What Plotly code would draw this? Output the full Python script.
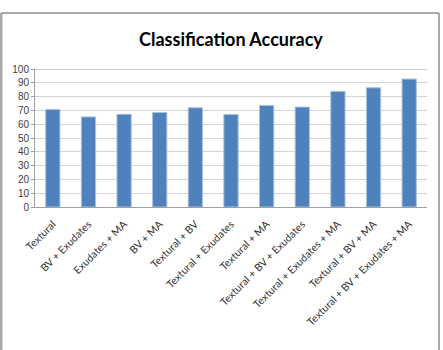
import plotly.graph_objects as go

categories = ["Textural", "BV + Exudates", "Exudates + MA", "BV + MA", "Textural + BV",
              "Textural + Exudates", "Textural + MA", "Textural + BV + Exudates",
              "Textural + Exudates + MA", "Textural + BV + MA", "Textural + BV + Exudates + MA"]
accuracy = [70.7, 65.3, 67.2, 68.5, 71.9, 67.1, 73.6, 72.4, 83.8, 86.4, 92.7]
y_ticks = list(range(0, 101, 10))

W, H = 443, 350
L, R, T, B = 35, 16, 69, 143
pw, ph = W - L - R, H - T - B

def px_x(p):
    return (p - L) / pw

def px_y(p):
    return (H - B - p) / ph

fig = go.Figure(go.Bar(
    x=categories, y=accuracy,
    marker=dict(color="#4f81bd", line=dict(color="#a9c1df", width=1)),
    width=0.4,
))

fig.update_layout(
    width=W, height=H,
    margin=dict(l=L, r=R, t=T, b=B),
    paper_bgcolor="white", plot_bgcolor="white",
    showlegend=False,
    title=dict(text="<b>Classification Accuracy</b>", x=0.5, xref="paper",
               y=1 - 40 / H, yanchor="middle",
               font=dict(family="Lato", size=18, color="#000000")),
    font=dict(family="Liberation Sans", color="#404040"),
    xaxis=dict(tickangle=-45, tickfont=dict(family="Lato", size=10.5, color="#303030"),
               ticklabelstandoff=6,
               showline=True, linecolor="#a0a0a0", linewidth=1,
               ticks="", showgrid=False),
    yaxis=dict(range=[0, 100], tickvals=y_ticks, tickfont=dict(size=10, color="#404040"),
               showline=True, linecolor="#a0a0a0", linewidth=1,
               ticks="outside", ticklen=3, tickcolor="#a0a0a0",
               showgrid=True, gridcolor="#d4d4d4", gridwidth=1, zeroline=False),
    bargap=0.6,
    shapes=[
        dict(type="line", xref="paper", yref="y", x0=0, x1=1, y0=100, y1=100,
             line=dict(color="#a0a0a0", width=1)),
        dict(type="line", xref="paper", yref="paper", x0=px_x(1), x1=px_x(439),
             y0=px_y(13), y1=px_y(13), line=dict(color="#a8a8a8", width=2)),
        dict(type="line", xref="paper", yref="paper", x0=px_x(1), x1=px_x(1),
             y0=px_y(13), y1=px_y(352), line=dict(color="#a8a8a8", width=3)),
        dict(type="line", xref="paper", yref="paper", x0=px_x(439), x1=px_x(439),
             y0=px_y(13), y1=px_y(352), line=dict(color="#a8a8a8", width=2)),
    ],
)

fig.write_html("out.html")
